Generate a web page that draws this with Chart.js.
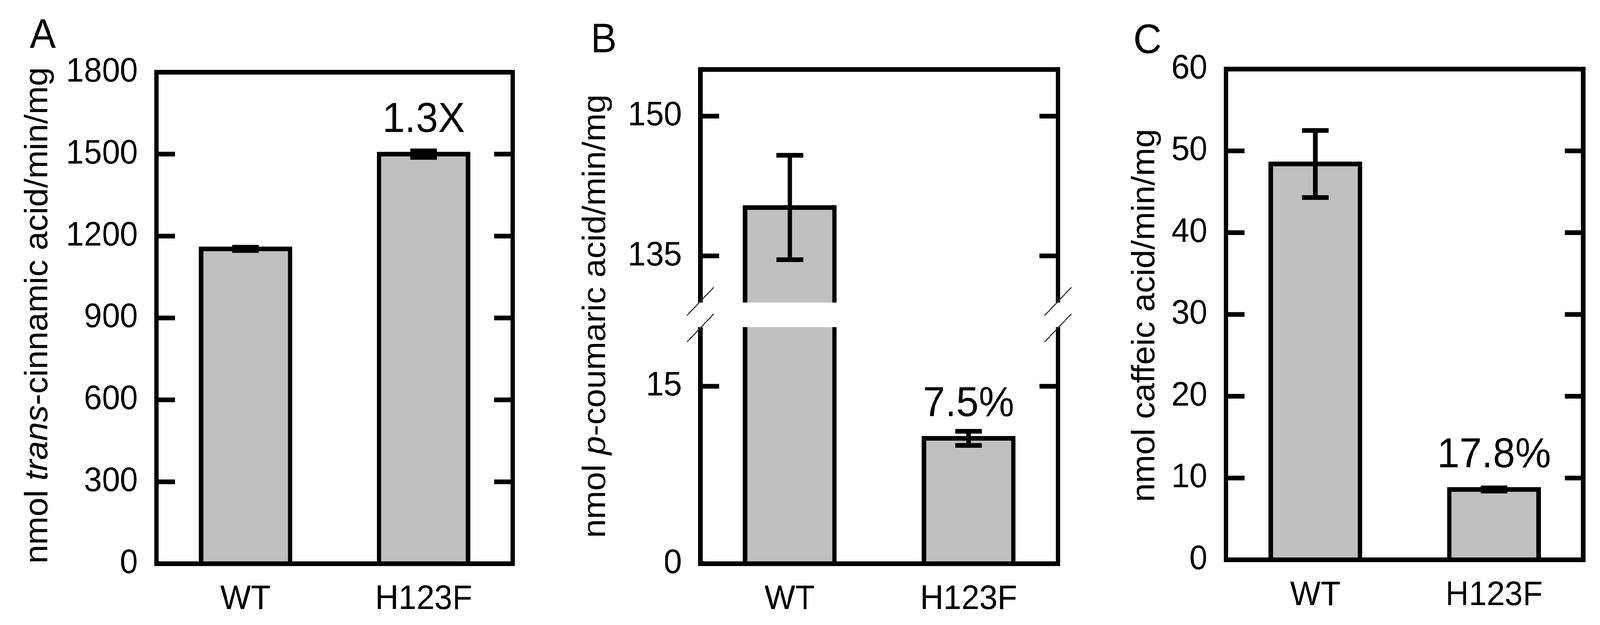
<!DOCTYPE html>
<html lang="en">
<head>
<meta charset="UTF-8">
<title>WT vs H123F activity</title>
<script src="https://cdn.jsdelivr.net/npm/chart.js@4.4.1/dist/chart.umd.min.js"></script>
<style>
  html, body { margin: 0; padding: 0; background: #fff; overflow: hidden; }
  #wrap { position: relative; width: 4304px; height: 1601px; overflow: hidden; background: #fff; transform-origin: 0 0; }
  canvas { position: absolute; top: 0; }
</style>
</head>
<body>
<div id="wrap">
  <canvas id="panelA" width="1450" height="1601" style="left:0px"></canvas>
  <canvas id="panelBTop" width="1450" height="1601" style="left:1450px"></canvas>
  <canvas id="panelBLow" width="1450" height="1601" style="left:1450px"></canvas>
  <canvas id="panelC" width="1404" height="1601" style="left:2900px"></canvas>
</div>
<script>
const categories = ['WT', 'H123F'];

// A - trans-cinnamic acid
const valuesA = [1153, 1500];
const errorsA = [6, 12];
const ticksA = [0, 300, 600, 900, 1200, 1500, 1800];
const notesA = ['', '1.3X'];

// B - p-coumaric acid (axis broken between 20 and 130)
const valuesB = [140.2, 10.6];
const errorsB = [5.6, 0.6];
const ticksBLow = [0, 15];
const ticksBHigh = [135, 150];
const notesB = ['', '7.5%'];

// C - caffeic acid
const valuesC = [48.4, 8.6];
const errorsC = [4.1, 0.2];
const ticksC = [0, 10, 20, 30, 40, 50, 60];
const notesC = ['', '17.8%'];

const FONT = '"Liberation Sans", Arial, sans-serif';
const LINE = 12;
Chart.defaults.font.family = FONT;
Chart.defaults.color = '#000';

// the window can be narrower than the figure, so squeeze it to fit
const sx = Math.min(1, window.innerWidth / 4304);
const sy = Math.min(1, window.innerHeight / 1601);
document.getElementById('wrap').style.transform = 'scale(' + sx + ',' + sy + ')';

// frame, inward ticks, error bars, notes, axis title and panel letter
const panelPlugin = {
  id: 'panel',
  afterDatasetsDraw(chart, args, o) {
    const ctx = chart.ctx;
    const a = chart.chartArea;
    const y = chart.scales.y;
    const vals = chart.data.datasets[0].data;
    const bars = chart.getDatasetMeta(0).data;

    ctx.save();
    ctx.strokeStyle = '#000';
    ctx.fillStyle = '#000';
    ctx.lineWidth = LINE;
    ctx.lineCap = 'butt';
    ctx.lineJoin = 'miter';

    // error bars
    o.errors.forEach((e, i) => {
      const v = vals[i];
      if (v - e < y.min || v + e > y.max) return;
      const x = bars[i].x;
      const top = y.getPixelForValue(v + e);
      const bot = y.getPixelForValue(v - e);
      ctx.beginPath();
      ctx.moveTo(x, top); ctx.lineTo(x, bot);
      ctx.moveTo(x - 36, top); ctx.lineTo(x + 36, top);
      ctx.moveTo(x - 36, bot); ctx.lineTo(x + 36, bot);
      ctx.stroke();
    });

    // frame
    ctx.beginPath();
    if (o.brk === 'bottom') {
      ctx.moveTo(a.left, a.bottom); ctx.lineTo(a.left, a.top);
      ctx.lineTo(a.right, a.top); ctx.lineTo(a.right, a.bottom);
    } else if (o.brk === 'top') {
      ctx.moveTo(a.left, a.top); ctx.lineTo(a.left, a.bottom);
      ctx.lineTo(a.right, a.bottom); ctx.lineTo(a.right, a.top);
    } else {
      ctx.rect(a.left, a.top, a.right - a.left, a.bottom - a.top);
    }
    ctx.stroke();

    // inward tick marks on both sides
    y.ticks.forEach(t => {
      const py = y.getPixelForValue(t.value);
      ctx.beginPath();
      ctx.moveTo(a.left, py); ctx.lineTo(a.left + 50, py);
      ctx.moveTo(a.right - 50, py); ctx.lineTo(a.right, py);
      ctx.stroke();
    });

    // axis break marks
    if (o.brk) {
      const by = o.brk === 'bottom' ? a.bottom - 3 : a.top + 2;
      ctx.lineWidth = 3;
      ctx.strokeStyle = '#333';
      [a.left, a.right].forEach(bx => {
        ctx.beginPath();
        ctx.moveTo(bx - 36, by + 36);
        ctx.lineTo(bx + 36, by - 36);
        ctx.stroke();
      });
    }

    // notes over bars
    ctx.font = '108px ' + FONT;
    ctx.textAlign = 'center';
    ctx.textBaseline = 'alphabetic';
    o.notes.forEach((txt, i) => {
      const v = vals[i];
      if (!txt || v > y.max || v < y.min) return;
      ctx.fillText(txt, bars[i].x, y.getPixelForValue(v) - 57);
    });

    // rotated y title, parts may be italic
    if (o.title) {
      ctx.save();
      ctx.translate(o.title.x, o.title.y);
      ctx.rotate(-Math.PI / 2);
      ctx.textAlign = 'left';
      const fontOf = p => (p[1] ? 'italic ' : '') + '87px ' + FONT;
      let total = 0;
      o.title.parts.forEach(p => { ctx.font = fontOf(p); total += ctx.measureText(p[0]).width; });
      let tx = -total / 2;
      o.title.parts.forEach(p => {
        ctx.font = fontOf(p);
        ctx.fillText(p[0], tx, 0);
        tx += ctx.measureText(p[0]).width;
      });
      ctx.restore();
    }

    if (o.letter) {
      ctx.font = '105px ' + FONT;
      ctx.textAlign = 'left';
      ctx.fillText(o.letter.text, o.letter.x, o.letter.y);
    }
    ctx.restore();
  }
};

function makePanel(id, p) {
  return new Chart(document.getElementById(id), {
    type: 'bar',
    data: {
      labels: categories,
      datasets: [{
        data: p.values,
        backgroundColor: '#c0c0c0',
        borderColor: '#000',
        borderWidth: LINE,
        inflateAmount: LINE / 2,
        barPercentage: 0.5,
        categoryPercentage: 1,
        clip: 0
      }]
    },
    options: {
      responsive: false,
      animation: false,
      devicePixelRatio: 1,
      layout: { padding: p.padding },
      plugins: {
        legend: { display: false },
        tooltip: { enabled: false },
        panel: {
          errors: p.errors,
          notes: p.notes || ['', ''],
          brk: p.brk,
          title: p.title,
          letter: p.letter
        }
      },
      scales: {
        x: {
          display: p.showX,
          grid: { display: false, drawTicks: false },
          border: { display: false },
          ticks: { font: { size: 87 }, padding: 40, color: '#000' },
          afterFit: s => { s.height = p.xHeight || 0; }
        },
        y: {
          min: p.min,
          max: p.max,
          grid: { display: false, drawTicks: false },
          border: { display: false },
          ticks: { font: { size: 87 }, padding: 50, color: '#000', callback: v => String(v) },
          afterBuildTicks: s => { s.ticks = p.ticks.map(v => ({ value: v })); },
          afterFit: s => { s.width = p.yWidth; }
        }
      }
    },
    plugins: [panelPlugin]
  });
}

makePanel('panelA', {
  values: valuesA, errors: errorsA, ticks: ticksA, notes: notesA,
  min: 0, max: 1800, showX: true,
  padding: { left: 0, top: 185, right: 71, bottom: 0 }, yWidth: 421, xHeight: 157,
  title: { x: 127, y: 808, parts: [['nmol ', false], ['trans', true], ['-cinnamic acid/min/mg', false]] },
  letter: { text: 'A', x: 80, y: 122 }
});

makePanel('panelBTop', {
  values: valuesB, errors: errorsB, ticks: ticksBHigh, notes: ['', ''],
  min: 130, max: 155, showX: false, brk: 'bottom',
  padding: { left: 0, top: 178, right: 54, bottom: 826 }, yWidth: 434
});

makePanel('panelBLow', {
  values: valuesB, errors: errorsB, ticks: ticksBLow, notes: notesB,
  min: 0, max: 20, showX: true, brk: 'top',
  padding: { left: 0, top: 838, right: 54, bottom: 0 }, yWidth: 434, xHeight: 157,
  title: { x: 178, y: 810, parts: [['nmol ', false], ['p', true], ['-coumaric acid/min/mg', false]] },
  letter: { text: 'B', x: 139, y: 134 }
});

makePanel('panelC', {
  values: valuesC, errors: errorsC, ticks: ticksC, notes: notesC,
  min: 0, max: 60, showX: true,
  padding: { left: 0, top: 177, right: 45, bottom: 0 }, yWidth: 398, xHeight: 167,
  title: { x: 205, y: 808, parts: [['nmol caffeic acid/min/mg', false]] },
  letter: { text: 'C', x: 149, y: 136 }
});
</script>
</body>
</html>
